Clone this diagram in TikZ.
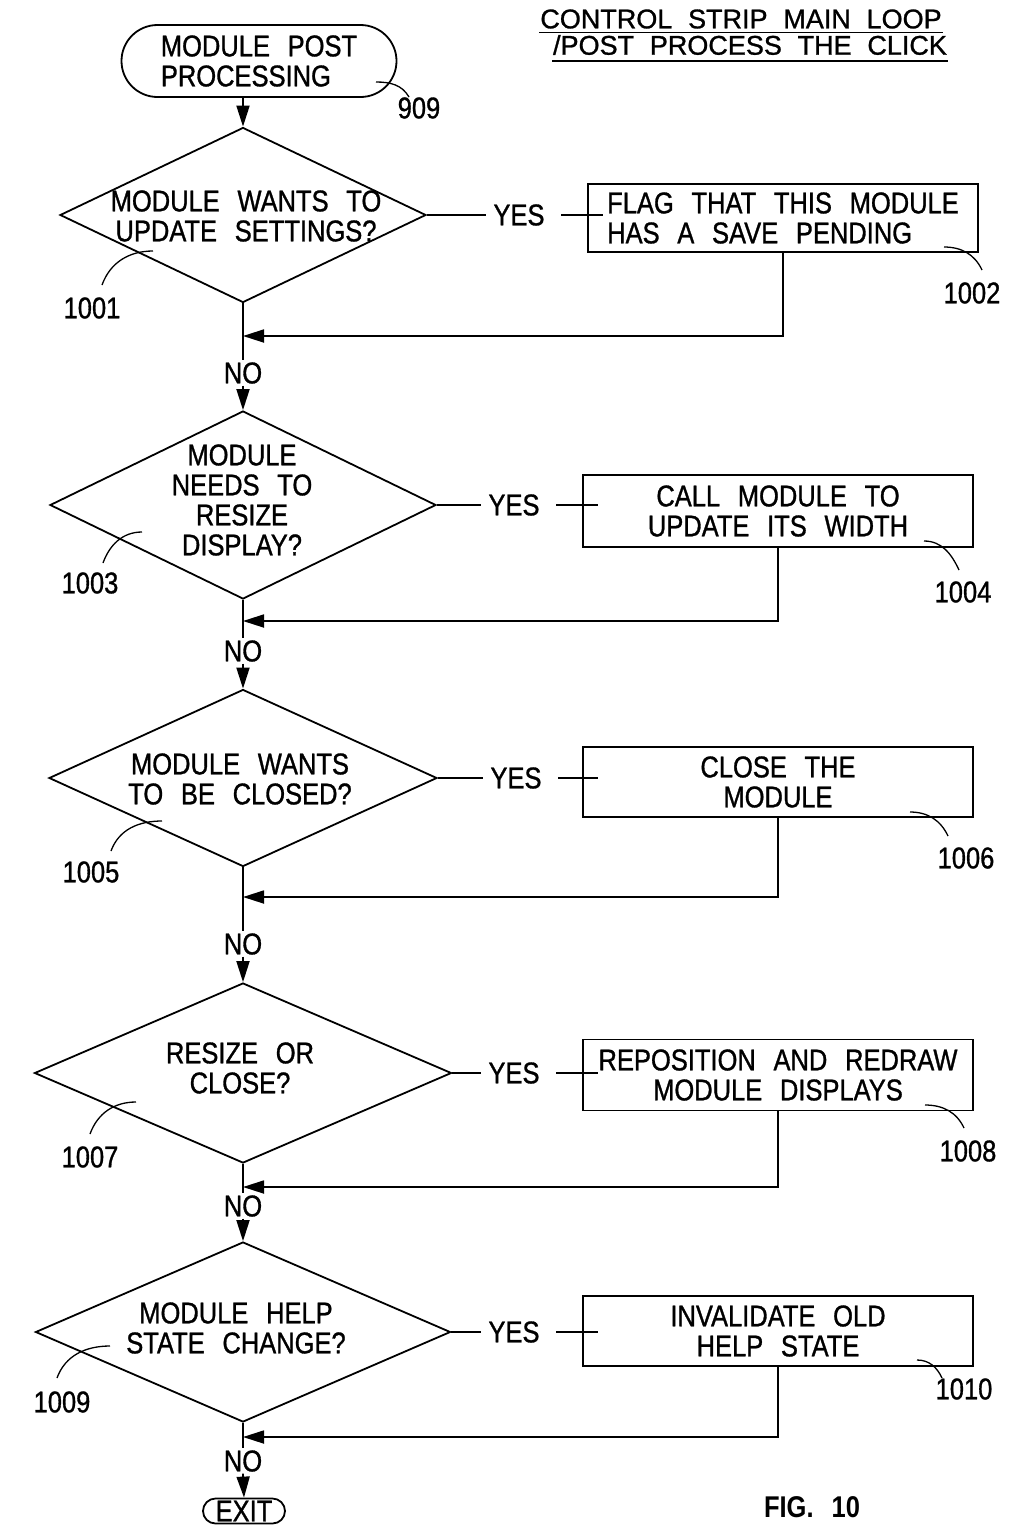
\documentclass[tikz,border=0pt]{standalone}
\usepackage{fontspec}
\setmainfont{Liberation Sans}[FakeStretch=0.85,WordSpace=2.5,FakeBold=1]
\newfontfamily\titlefont{Liberation Sans}[WordSpace=2.1,FakeBold=1]
\newfontfamily\figfont{Liberation Sans}[FakeStretch=0.85]
\usetikzlibrary{shapes.geometric,shapes.misc,arrows.meta}
\begin{document}
\begin{tikzpicture}[x=1pt,y=-1pt,
  line width=1.8pt,
  every node/.style={inner sep=0pt},
  txt/.style={font=\fontsize{30}{30}\selectfont, align=center},
  dia/.style={draw, diamond, inner sep=0pt},
  stepbox/.style={draw, rectangle, minimum width=390pt, minimum height=70pt,
    font=\fontsize{30}{30}\selectfont, align=center},
  term/.style={draw, rounded rectangle, font=\fontsize{30}{30}\selectfont},
  arr/.style={-{Triangle[length=21pt,width=13pt]}},
  lead/.style={line width=1.3pt},
  nolab/.style={font=\fontsize{30}{30}\selectfont, inner ysep=1pt},
  titl/.style={font=\titlefont\fontsize{27}{27}\selectfont},
]
\useasboundingbox (0,0) rectangle (1022,1527);
\clip (0,0) rectangle (1022,1527);

% title
\node[titl] (ti1) at (741,19) {CONTROL STRIP MAIN LOOP};
\node[titl] (ti2) at (750,45) {/POST PROCESS THE CLICK};
\draw[line width=1.5pt] ([yshift=-3pt]ti1.south west) -- ([yshift=-3pt]ti1.south east);
\draw[line width=1.5pt] ([yshift=-5pt]ti2.south west) -- ([yshift=-5pt]ti2.south east);

% start
\node[term, minimum width=275pt, minimum height=72pt, align=left] (start) at (259,61) {MODULE POST\\PROCESSING};
\node[txt] (l909) at (419,108) {909};
\coordinate (c909a) at (376,82);
\coordinate (c909b) at (409,97);
\draw[lead] (c909a) to[out=0,in=120] (c909b);

% diamonds
\node[dia, minimum width=366pt, minimum height=175pt] (d1) at (243,215) {};
\node[txt] (t1) at (246,216) {MODULE WANTS TO\\UPDATE SETTINGS?};
\node[dia, minimum width=386pt, minimum height=188pt] (d2) at (243,505) {};
\node[txt] (t2) at (242,500) {MODULE\\NEEDS TO\\RESIZE\\DISPLAY?};
\node[dia, minimum width=388pt, minimum height=177pt] (d3) at (243,778) {};
\node[txt] (t3) at (240,779) {MODULE WANTS\\TO BE CLOSED?};
\node[dia, minimum width=417pt, minimum height=180pt] (d4) at (243,1073) {};
\node[txt] (t4) at (240,1068) {RESIZE OR\\CLOSE?};
\node[dia, minimum width=415pt, minimum height=180pt] (d5) at (243,1332) {};
\node[txt] (t5) at (236,1328) {MODULE HELP\\STATE CHANGE?};

% boxes
\node[stepbox, minimum height=68pt, align=left] (b1) at (783,218) {FLAG THAT THIS MODULE\\HAS A SAVE PENDING};
\node[stepbox, minimum height=72pt] (b2) at (778,511) {CALL MODULE TO\\UPDATE ITS WIDTH};
\node[stepbox] (b3) at (778,782) {CLOSE THE\\MODULE};
\node[stepbox, minimum height=71pt] (b4) at (778,1075) {REPOSITION AND REDRAW\\MODULE DISPLAYS};
\node[stepbox] (b5) at (778,1331) {INVALIDATE OLD\\HELP STATE};

% YES labels and connectors
\node[txt] (y1) at (519,215) {YES};
\node[txt] (y2) at (514,505) {YES};
\node[txt] (y3) at (516,778) {YES};
\node[txt] (y4) at (514,1073) {YES};
\node[txt] (y5) at (514,1332) {YES};
\foreach \i in {1,...,5}{
  \draw (d\i.east) -- ([xshift=-7pt]y\i.west);
  \draw ([xshift=16pt]y\i.east) -- ([xshift=16pt]y\i.east -| b\i.west);
}

% NO labels
\node[nolab] (n1) at (243,373) {NO};
\node[nolab] (n2) at (243,651) {NO};
\node[nolab] (n3) at (243,944) {NO};
\node[nolab] (n4) at (243,1206) {NO};
\node[nolab] (n5) at (243,1461) {NO};

% exit
\node[term, minimum width=82pt, minimum height=25pt] (exit) at (244,1511) {EXIT};

% main flow
\draw[arr] (start.south -| d1.north) -- (d1.north);
\draw (d1.south) -- (n1.north);
\draw[arr] (n1.south) -- (d2.north);
\draw (d2.south) -- (n2.north);
\draw[arr] (n2.south) -- (d3.north);
\draw (d3.south) -- (n3.north);
\draw[arr] (n3.south) -- (d4.north);
\draw (d4.south) -- (n4.north);
\draw[arr] (n4.south) -- (d5.north);
\draw (d5.south) -- (n5.north);
\draw[arr] (n5.south) -- (exit.north);

% return lines
\coordinate (r1) at (243,336);
\coordinate (r2) at (243,621);
\coordinate (r3) at (243,897);
\coordinate (r4) at (243,1187);
\coordinate (r5) at (243,1437);
\foreach \i in {1,...,5}{
  \draw[arr] (b\i.south) |- (r\i);
}

% reference numerals
\node[txt] (l1001) at (92,308) {1001};
\node[txt] (l1002) at (972,293) {1002};
\node[txt] (l1003) at (90,583) {1003};
\node[txt] (l1004) at (963,592) {1004};
\node[txt] (l1005) at (91,872) {1005};
\node[txt] (l1006) at (966,858) {1006};
\node[txt] (l1007) at (90,1157) {1007};
\node[txt] (l1008) at (968,1151) {1008};
\node[txt] (l1009) at (62,1402) {1009};
\node[txt] (l1010) at (964,1389) {1010};

\coordinate (a1001) at (153,251);  \coordinate (e1001) at (102,285);
\coordinate (a1002) at (944,247);  \coordinate (e1002) at (982,270);
\coordinate (a1003) at (142,532);  \coordinate (e1003) at (103,563);
\coordinate (a1004) at (924,541);  \coordinate (e1004) at (959,570);
\coordinate (a1005) at (162,821);  \coordinate (e1005) at (111,851);
\coordinate (a1006) at (910,812);  \coordinate (e1006) at (948,836);
\coordinate (a1007) at (136,1102); \coordinate (e1007) at (90,1134);
\coordinate (a1008) at (925,1105); \coordinate (e1008) at (964,1128);
\coordinate (a1009) at (110,1346); \coordinate (e1009) at (57,1378);
\coordinate (a1010) at (917,1360); \coordinate (e1010) at (942,1378);
\foreach \n in {1001,1003,1005,1007,1009}{
  \draw[lead] (a\n) to[out=180,in=70] (e\n);
}
\foreach \n in {1002,1004,1006,1008,1010}{
  \draw[lead] (a\n) to[out=0,in=115] (e\n);
}

% figure caption
\node[font=\figfont\bfseries\fontsize{30}{30}\selectfont, anchor=north] (fig) at (812,1496) {FIG.\hspace{18pt}10};
\end{tikzpicture}
\end{document}
